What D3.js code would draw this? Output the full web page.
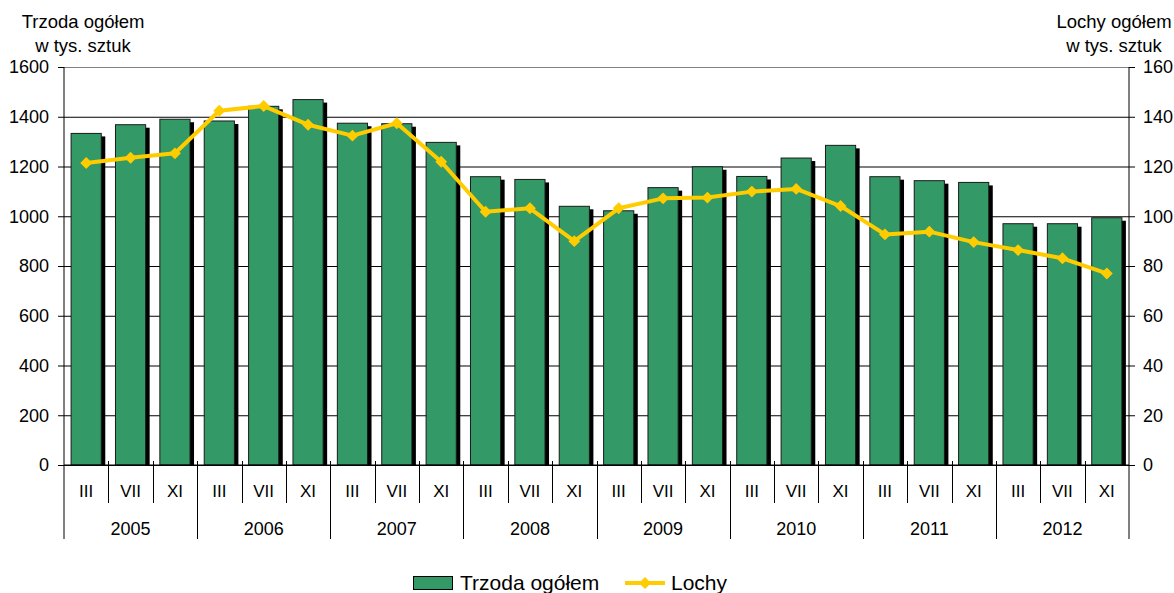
<!DOCTYPE html>
<html>
<head>
<meta charset="utf-8">
<script src="https://cdn.jsdelivr.net/npm/d3@7"></script>
<style>
  body { margin: 0; background: #fff; }
  svg text { font-family: "Liberation Sans", Arial, sans-serif; fill: #000; }
</style>
</head>
<body>
<div class="container"></div>
<script>
const years = ["2005", "2006", "2007", "2008", "2009", "2010", "2011", "2012"];
const months = ["III", "VII", "XI"];
// Trzoda ogółem, tys. sztuk (left axis)
const trzoda = [1333, 1368, 1390, 1383, 1442, 1469, 1374, 1372, 1297, 1159, 1148, 1040,
  1022, 1115, 1199, 1160, 1234, 1285, 1159, 1143, 1136, 970, 970, 994];
// Lochy, tys. sztuk (right axis)
const lochy = [121.4, 123.5, 125.3, 142.4, 144.3, 136.8, 132.4, 137.4, 121.9, 101.8, 103.2, 90.0,
  103.2, 107.2, 107.5, 109.9, 111.0, 104.1, 92.7, 93.8, 89.6, 86.4, 83.1, 77.0];
const leftTicks = [0, 200, 400, 600, 800, 1000, 1200, 1400, 1600];
const rightTicks = [0, 20, 40, 60, 80, 100, 120, 140, 160];

const width = 1174;
const height = 593;
const margin = { top: 67, right: 45, bottom: 128, left: 64 };
const innerWidth = width - margin.left - margin.right;
const innerHeight = height - margin.top - margin.bottom;

const cats = [];
years.forEach((y) => months.forEach((m) => cats.push({ id: y + "-" + m, year: y, month: m })));
const data = cats.map((c, i) => ({ ...c, trzoda: trzoda[i], lochy: lochy[i] }));

const svg = d3.select(".container").append("svg")
  .attr("width", width).attr("height", height);
const g = svg.append("g").attr("transform", `translate(${margin.left},${margin.top})`);

const xScale = d3.scaleBand().domain(cats.map((c) => c.id)).range([0, innerWidth]);
const yLeft = d3.scaleLinear().domain([0, 1600]).range([innerHeight, 0]);
const yRight = d3.scaleLinear().domain([0, 160]).range([innerHeight, 0]);
const bw = xScale.bandwidth();
const barW = bw * 0.68;

// gridlines
g.append("g")
  .call(d3.axisLeft(yLeft).tickValues(leftTicks).tickSize(-innerWidth).tickFormat(""))
  .call((s) => s.select(".domain").remove())
  .call((s) => s.selectAll("line").attr("stroke", (d) => (d === 1600 ? "#808080" : "#000")));

// bar shadows then bars
svg.append("clipPath").attr("id", "plotclip")
  .append("rect").attr("x", 0).attr("y", -10).attr("width", innerWidth + 10).attr("height", innerHeight + 10);
g.append("g").attr("clip-path", "url(#plotclip)")
  .selectAll("rect").data(data).enter().append("rect")
  .attr("x", (d) => xScale(d.id) + (bw - barW) / 2 + 4)
  .attr("y", (d) => yLeft(d.trzoda) + 3)
  .attr("width", barW)
  .attr("height", (d) => innerHeight - yLeft(d.trzoda))
  .attr("fill", "#000");

g.append("g").selectAll("rect").data(data).enter().append("rect")
  .attr("x", (d) => xScale(d.id) + (bw - barW) / 2)
  .attr("y", (d) => yLeft(d.trzoda))
  .attr("width", barW)
  .attr("height", (d) => innerHeight - yLeft(d.trzoda))
  .attr("fill", "#339966")
  .attr("stroke", "#1a1a1a")
  .attr("stroke-width", 1);

// left axis
g.append("g")
  .call(d3.axisLeft(yLeft).tickValues(leftTicks).tickSize(6).tickPadding(9).tickFormat(d3.format("d")))
  .call((s) => s.select(".domain").remove())
  .call((s) => s.selectAll("line").attr("stroke", "#000"))
  .call((s) => s.selectAll("text").style("font-size", "18px"));

// right axis
g.append("g").attr("transform", `translate(${innerWidth},0)`)
  .call(d3.axisRight(yRight).tickValues(rightTicks).tickSize(6).tickPadding(8).tickFormat(d3.format("d")))
  .call((s) => s.select(".domain").remove())
  .call((s) => s.selectAll("line").attr("stroke", "#000"))
  .call((s) => s.selectAll("text").style("font-size", "18px"));

// vertical axis lines
g.append("line").attr("x1", 0).attr("x2", 0).attr("y1", 0).attr("y2", innerHeight + 74).attr("stroke", "#000");
g.append("line").attr("x1", innerWidth).attr("x2", innerWidth).attr("y1", 0).attr("y2", innerHeight + 74).attr("stroke", "#000");
g.append("line").attr("x1", 0).attr("x2", innerWidth).attr("y1", innerHeight).attr("y2", innerHeight).attr("stroke", "#000");

// category separators
data.forEach((d, i) => {
  if (i === 0) return;
  const x = Math.round(xScale(d.id)) + 0.5;
  const isYear = d.month === "III";
  g.append("line").attr("x1", x).attr("x2", x)
    .attr("y1", innerHeight - 4).attr("y2", innerHeight + (isYear ? 74 : 38))
    .attr("stroke", "#000");
});

// month labels
g.append("g").selectAll("text").data(data).enter().append("text")
  .attr("x", (d) => xScale(d.id) + bw / 2)
  .attr("y", innerHeight + 32)
  .attr("text-anchor", "middle")
  .style("font-size", "17px")
  .text((d) => d.month);

// year labels
g.append("g").selectAll("text").data(years).enter().append("text")
  .attr("x", (y) => xScale(y + "-VII") + bw / 2)
  .attr("y", innerHeight + 70)
  .attr("text-anchor", "middle")
  .style("font-size", "18px")
  .text((y) => y);

// line series
const line = d3.line().x((d) => xScale(d.id) + bw / 2).y((d) => yRight(d.lochy));
g.append("path").datum(data).attr("d", line)
  .attr("fill", "none").attr("stroke", "#FFCC00").attr("stroke-width", 4)
  .attr("stroke-linejoin", "round");
const diamond = d3.symbol().type(d3.symbolDiamond2).size(90);
g.append("g").selectAll("path").data(data).enter().append("path")
  .attr("d", diamond)
  .attr("transform", (d) => `translate(${xScale(d.id) + bw / 2},${yRight(d.lochy)})`)
  .attr("fill", "#FFCC00");

// axis titles
svg.append("text").attr("x", 83).attr("y", 28).attr("text-anchor", "middle").style("font-size", "18.5px").text("Trzoda ogółem");
svg.append("text").attr("x", 83).attr("y", 52).attr("text-anchor", "middle").style("font-size", "18.5px").text("w tys. sztuk");
svg.append("text").attr("x", 1114).attr("y", 28).attr("text-anchor", "middle").style("font-size", "18.5px").text("Lochy ogółem");
svg.append("text").attr("x", 1114).attr("y", 52).attr("text-anchor", "middle").style("font-size", "18.5px").text("w tys. sztuk");

// legend
const legend = svg.append("g");
legend.append("rect").attr("x", 413.5).attr("y", 576.5).attr("width", 39).attr("height", 13)
  .attr("fill", "#339966").attr("stroke", "#000");
legend.append("text").attr("x", 460).attr("y", 590).style("font-size", "21px").text("Trzoda ogółem");
legend.append("line").attr("x1", 625).attr("x2", 665).attr("y1", 583).attr("y2", 583)
  .attr("stroke", "#FFCC00").attr("stroke-width", 4);
legend.append("path").attr("d", diamond).attr("transform", "translate(645,583)").attr("fill", "#FFCC00");
legend.append("text").attr("x", 671).attr("y", 590).style("font-size", "21px").text("Lochy");
</script>
</body>
</html>
